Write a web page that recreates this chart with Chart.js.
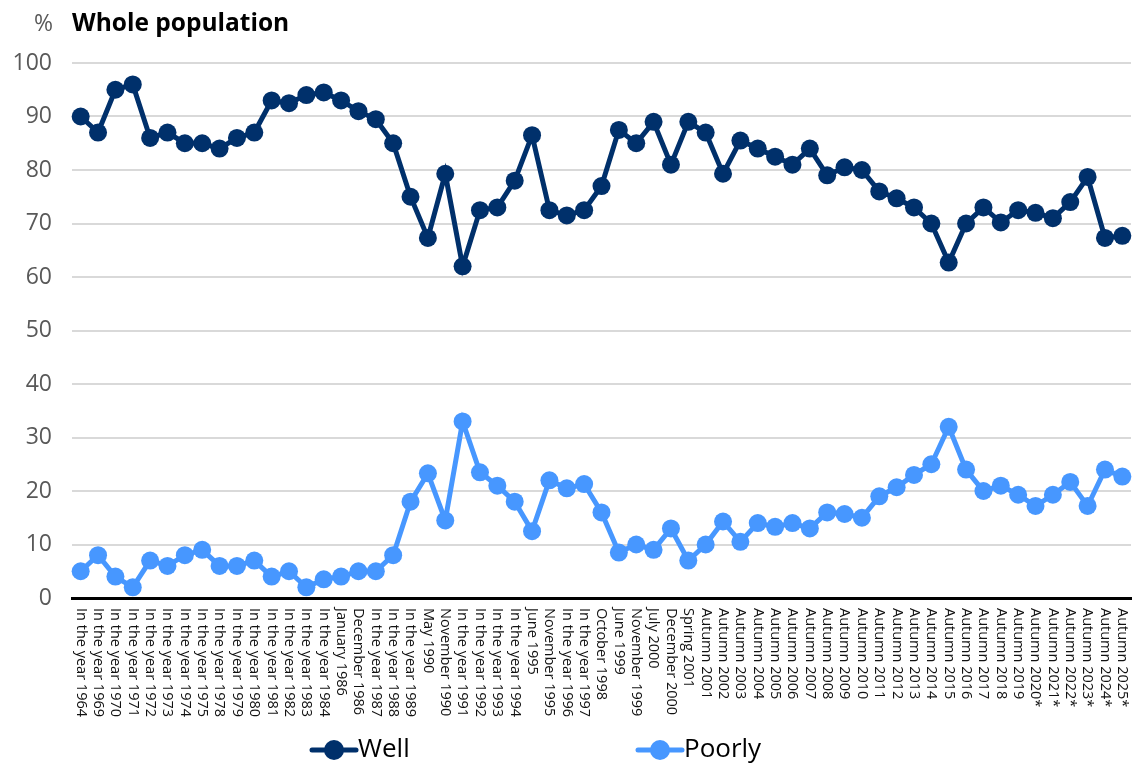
<!DOCTYPE html>
<html>
<head>
<meta charset="utf-8">
<script src="https://cdn.jsdelivr.net/npm/chart.js@4"></script>
<style>
  html, body { margin: 0; padding: 0; background: #fff; }
  #wrap { width: 1141px; height: 767px; }
</style>
</head>
<body>
<div id="wrap"><canvas id="myChart" width="1141" height="767"></canvas></div>
<script>
// survey rounds (x-axis labels)
const periods = [
  'In the year 1964', 'In the year 1969', 'In the year 1970', 'In the year 1971', 'In the year 1972',
  'In the year 1973', 'In the year 1974', 'In the year 1975', 'In the year 1978', 'In the year 1979',
  'In the year 1980', 'In the year 1981', 'In the year 1982', 'In the year 1983', 'In the year 1984',
  'January 1986', 'December 1986', 'In the year 1987', 'In the year 1988', 'In the year 1989',
  'May 1990', 'November 1990', 'In the year 1991', 'In the year 1992', 'In the year 1993',
  'In the year 1994', 'June 1995', 'November 1995', 'In the year 1996', 'In the year 1997',
  'October 1998', 'June 1999', 'November 1999', 'July 2000', 'December 2000', 'Spring 2001',
  'Autumn 2001', 'Autumn 2002', 'Autumn 2003', 'Autumn 2004', 'Autumn 2005', 'Autumn 2006',
  'Autumn 2007', 'Autumn 2008', 'Autumn 2009', 'Autumn 2010', 'Autumn 2011', 'Autumn 2012',
  'Autumn 2013', 'Autumn 2014', 'Autumn 2015', 'Autumn 2016', 'Autumn 2017', 'Autumn 2018',
  'Autumn 2019', 'Autumn 2020*', 'Autumn 2021*', 'Autumn 2022*', 'Autumn 2023*', 'Autumn 2024*',
  'Autumn 2025*'
];

// % answering "well"
const well = [
  90, 87, 95, 96, 86, 87, 85, 85, 84, 86,
  87, 93, 92.5, 94, 94.5, 93, 91, 89.5, 85, 75,
  67.3, 79.3, 62, 72.5, 73, 78, 86.5, 72.5, 71.5, 72.5,
  77, 87.5, 85, 89, 81, 89, 87, 79.3, 85.5, 84,
  82.5, 81, 84, 79, 80.5, 80, 76, 74.7, 73, 70,
  62.7, 70, 73, 70.2, 72.5, 72, 71, 74, 78.7, 67.3,
  67.7
];

// % answering "poorly"
const poorly = [
  5, 8, 4, 2, 7, 6, 8, 9, 6, 6,
  7, 4, 5, 2, 3.5, 4, 5, 5, 8, 18,
  23.3, 14.5, 33, 23.5, 21, 18, 12.5, 22, 20.5, 21.3,
  16, 8.5, 10, 9, 13, 7, 10, 14.3, 10.5, 14,
  13.3, 14, 13, 16, 15.7, 15, 19, 20.7, 23, 25,
  32, 24, 20, 21, 19.3, 17.2, 19.3, 21.7, 17.2, 24,
  22.7
];

const yTicks = [0, 10, 20, 30, 40, 50, 60, 70, 80, 90, 100];

const FONT = '"Open Sans", "DejaVu Sans", sans-serif';
const wellColor = '#00306b';
const poorColor = '#4797ff';

// title, "%" unit, x labels (reading downwards) and legend
const extras = {
  id: 'extras',
  afterDraw(chart) {
    const ctx = chart.ctx;
    const area = chart.chartArea;
    const xs = chart.scales.x;
    ctx.save();

    // unit + title
    ctx.textBaseline = 'alphabetic';
    ctx.textAlign = 'right';
    ctx.fillStyle = '#595959';
    ctx.font = '23px ' + FONT;
    ctx.fillText('%', 53, 31);
    ctx.textAlign = 'left';
    ctx.fillStyle = '#000';
    ctx.font = 'bold 24.5px ' + FONT;
    ctx.fillText('Whole population', area.left, 31);

    // x labels, rotated clockwise
    ctx.font = '14.5px ' + FONT;
    ctx.fillStyle = '#111';
    ctx.textBaseline = 'middle';
    chart.data.labels.forEach((lab, i) => {
      const x = xs.getPixelForTick(i);
      ctx.save();
      ctx.translate(x, area.bottom + 10);
      ctx.rotate(Math.PI / 2);
      ctx.fillText(lab, 0, 0);
      ctx.restore();
    });

    // legend
    const legendY = 750;
    const starts = [312, 638];
    chart.data.datasets.forEach((ds, i) => {
      const x0 = starts[i];
      ctx.strokeStyle = ds.borderColor;
      ctx.lineWidth = 5;
      ctx.lineCap = 'round';
      ctx.beginPath();
      ctx.moveTo(x0, legendY);
      ctx.lineTo(x0 + 44, legendY);
      ctx.stroke();
      ctx.fillStyle = ds.borderColor;
      ctx.beginPath();
      ctx.arc(x0 + 22, legendY, 10, 0, Math.PI * 2);
      ctx.fill();
      ctx.fillStyle = '#000';
      ctx.font = '26px ' + FONT;
      ctx.textBaseline = 'middle';
      ctx.textAlign = 'left';
      ctx.fillText(ds.label, x0 + 46, legendY);
    });
    ctx.restore();
  }
};

const ctx = document.getElementById('myChart');
new Chart(ctx, {
  type: 'line',
  data: {
    labels: periods,
    datasets: [
      {
        label: 'Well',
        data: well,
        borderColor: wellColor,
        backgroundColor: wellColor,
        borderWidth: 5,
        pointRadius: 9,
        pointBorderWidth: 0,
        pointBackgroundColor: wellColor,
        fill: false,
        tension: 0
      },
      {
        label: 'Poorly',
        data: poorly,
        borderColor: poorColor,
        backgroundColor: poorColor,
        borderWidth: 5,
        pointRadius: 9,
        pointBorderWidth: 0,
        pointBackgroundColor: poorColor,
        fill: false,
        tension: 0
      }
    ]
  },
  options: {
    responsive: false,
    animation: false,
    events: [],
    layout: { padding: { top: 63, right: 8, bottom: 44, left: 0 } },
    scales: {
      x: {
        offset: true,
        grid: { display: false },
        border: { display: true, color: '#000', width: 3 },
        ticks: {
          autoSkip: false,
          minRotation: 90,
          maxRotation: 90,
          color: 'rgba(0,0,0,0)',
          font: { family: FONT, size: 13 }
        },
        afterFit: s => { s.height = 125; }
      },
      y: {
        min: 0,
        max: 100,
        afterBuildTicks: s => { s.ticks = yTicks.map(v => ({ value: v })); },
        border: { display: false },
        grid: {
          drawTicks: false,
          lineWidth: 2,
          color: c => c.tick.value === 0 ? 'rgba(0,0,0,0)' : '#d9d9d9'
        },
        ticks: {
          padding: 20,
          color: '#595959',
          font: { family: FONT, size: 23 }
        },
        afterFit: s => { s.width = 72; }
      }
    },
    plugins: {
      legend: { display: false },
      tooltip: { enabled: false }
    }
  },
  plugins: [extras]
});
</script>
</body>
</html>
